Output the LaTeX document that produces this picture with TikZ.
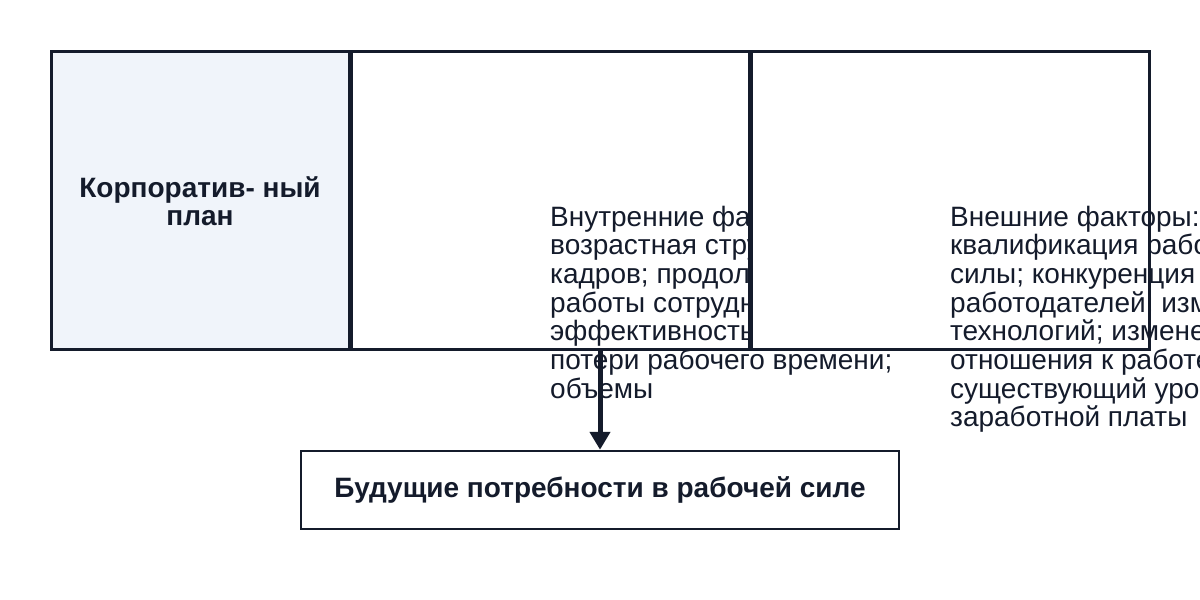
\documentclass[tikz,border=0pt]{standalone}
\usepackage{fontspec}
\setmainfont{Liberation Sans}
\usetikzlibrary{arrows.meta}
\definecolor{ink}{HTML}{141B2B}
\definecolor{cellfill}{HTML}{F0F4FA}
\begin{document}
\begin{tikzpicture}[x=1pt,y=-1pt,
  cellbg/.style={rectangle,inner sep=0pt,outer sep=0pt,minimum height=298pt},
  border/.style={draw=ink,line width=3pt},
  bodytext/.style={anchor=base west,inner sep=0pt,align=left,text=ink,
    font=\fontsize{28}{28.7}\selectfont},
  boldtext/.style={align=center,text=ink,font=\fontsize{28}{28}\selectfont\bfseries},
  flow/.style={draw=ink,line width=5pt,-{Triangle[length=18pt,width=20pt]}}]
\useasboundingbox (0,0) rectangle (1200,600);
\clip (0,0) rectangle (1200,600);
\fill[white] (0,0) rectangle (1200,600);
% cells (fills)
\node[cellbg,fill=cellfill,minimum width=298pt] (c1) at (200,200) {};
\node[cellbg,fill=white,minimum width=398pt] (c2) at (550,200) {};
% base anchor of a multi-line node lies on its last line
\node[bodytext] (t2) at (550,398.2) {Внутренние факторы:\\возрастная структура\\кадров; продолжительность\\работы сотрудников;\\эффективность труда;\\потери рабочего времени;\\объемы};
\node[cellbg,fill=white,minimum width=398pt] (c3) at (950,200) {};
\node[bodytext] (t3) at (950,426.9) {Внешние факторы:\\квалификация рабочей\\силы; конкуренция среди\\работодателей; изменение\\технологий; изменение\\отношения к работе;\\существующий уровень\\заработной платы};
\node[boldtext] (t1) at ([yshift=-1pt]c1.center) {Корпоратив- ный\\план};
% borders
\draw[border] (c1.north west) rectangle (c1.south east);
\draw[border] (c2.north west) rectangle (c2.south east);
\draw[border] (c3.north west) rectangle (c3.south east);
% bottom box
\node[rectangle,draw=ink,line width=2.5pt,fill=white,minimum width=598pt,minimum height=78pt,
  text=ink,font=\fontsize{28}{28}\selectfont\bfseries] (need) at (600,490) {\raisebox{-3pt}{Будущие потребности в рабочей силе}};
\coordinate (start) at (600,349);
\draw[flow] (start) -- (need.north);
\end{tikzpicture}
\end{document}
